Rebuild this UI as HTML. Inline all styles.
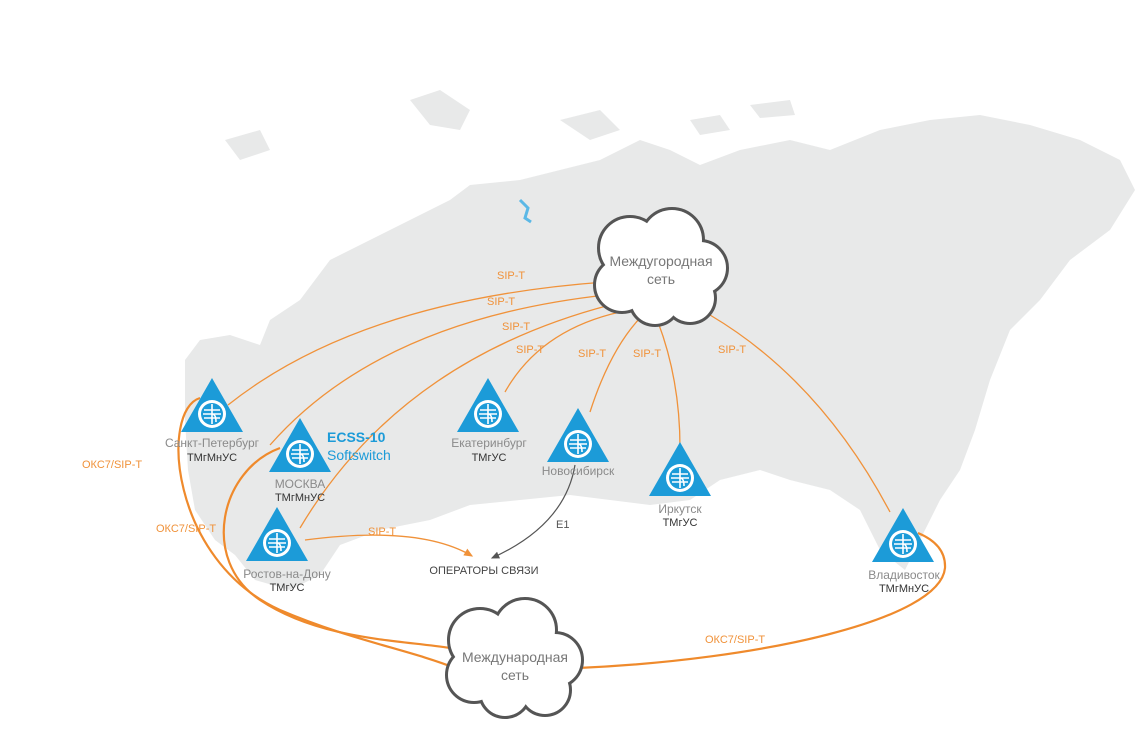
<!DOCTYPE html>
<html><head><meta charset="utf-8"><style>
body{margin:0;background:#fff;}
svg{display:block;font-family:"Liberation Sans","DejaVu Sans",sans-serif;}
.o{fill:none;stroke:#f0923a;stroke-width:1.3}
.ob{fill:none;stroke:#ef8a2c;stroke-width:2.2}
.lb{fill:#f0923a;font-size:11px}
.cn{fill:#8a8a8a;font-size:12px;text-anchor:middle}
.ct{fill:#333;font-size:11px;text-anchor:middle}
</style></head><body>
<svg width="1138" height="733" viewBox="0 0 1138 733">
<defs>
<g id="n">
<polygon points="0,-30 31,24 -31,24" fill="#1c9bd8"/>
<circle cx="0" cy="6" r="14" fill="#fff"/>
<circle cx="0" cy="6" r="11" fill="#1c9bd8"/>
<path d="M-8 2h16M-9 6h18M-8 10h16" stroke="#fff" stroke-width="1.5"/>
<path d="M0 -4v20M0 6q4 0 4 8" stroke="#fff" stroke-width="1.6" fill="none"/>
</g>
<marker id="ao" markerWidth="8" markerHeight="8" refX="6" refY="3" orient="auto"><path d="M0,0L7,3L0,6z" fill="#f0923a"/></marker>
<marker id="ag" markerWidth="8" markerHeight="8" refX="6" refY="3" orient="auto"><path d="M0,0L7,3L0,6z" fill="#555"/></marker>
</defs>
<!-- map -->
<path fill="#e8e9e9" d="M185 360 L200 340 L230 335 L260 345 L270 320 L300 300 L330 260 L370 240 L420 215 L450 200 L470 185 L520 180 L560 170 L600 160 L640 140 L670 150 L700 165 L740 150 L790 140 L830 150 L880 130 L930 120 L980 115 L1030 125 L1080 140 L1120 160 L1135 190 L1110 230 L1070 260 L1040 300 L1010 330 L990 380 L975 430 L960 470 L940 500 L920 540 L905 570 L880 550 L860 510 L830 490 L790 480 L760 470 L720 480 L690 500 L650 505 L610 500 L570 495 L520 500 L470 505 L430 520 L380 530 L340 545 L320 575 L290 590 L255 580 L235 555 L215 540 L195 510 L188 470 L185 420 Z"/>
<path fill="#e8e9e9" d="M410 100 L440 90 L470 110 L460 130 L430 125 Z M560 120 L600 110 L620 130 L590 140 Z M225 140 L260 130 L270 150 L240 160 Z M690 120 L720 115 L730 130 L700 135Z M750 105 L790 100 L795 115 L760 118Z"/>
<path d="M520 200 l8 8 l-3 10 l6 4" stroke="#5bb8e6" stroke-width="3" fill="none"/>
<!-- lines -->
<path class="o" d="M228 405 Q360 300 605 282"/>
<path class="o" d="M270 445 Q380 320 606 295"/>
<path class="o" d="M300 528 Q400 360 610 305"/>
<path class="o" d="M505 392 Q540 330 620 312"/>
<path class="o" d="M590 412 Q610 350 640 318"/>
<path class="o" d="M680 448 Q680 380 658 322"/>
<path class="o" d="M890 512 Q820 380 710 315"/>
<path class="o" d="M305 540 Q420 525 472 556" marker-end="url(#ao)"/>
<path d="M575 465 Q565 525 492 558" fill="none" stroke="#555" stroke-width="1.2" marker-end="url(#ag)"/>
<path class="ob" d="M200 398 C160 410 170 560 280 610 C350 640 410 650 455 668"/>
<path class="ob" d="M280 448 C220 470 200 560 260 600 C320 640 400 640 450 648"/>
<path class="ob" d="M578 668 C760 660 940 620 945 568 C946 548 930 538 918 533"/>
<!-- clouds -->
<g>
<g fill="#fff" stroke="#555" stroke-width="6">
<circle cx="630" cy="248" r="30"/><circle cx="672" cy="240" r="30"/><circle cx="700" cy="268" r="26"/><circle cx="690" cy="298" r="24"/><circle cx="655" cy="300" r="24"/><circle cx="622" cy="285" r="26"/>
<circle cx="480" cy="640" r="30"/><circle cx="525" cy="630" r="30"/><circle cx="555" cy="660" r="26"/><circle cx="545" cy="690" r="24"/><circle cx="505" cy="692" r="24"/><circle cx="474" cy="675" r="26"/>
</g>
<g fill="#fff">
<circle cx="630" cy="248" r="30"/><circle cx="672" cy="240" r="30"/><circle cx="700" cy="268" r="26"/><circle cx="690" cy="298" r="24"/><circle cx="655" cy="300" r="24"/><circle cx="622" cy="285" r="26"/><circle cx="660" cy="270" r="30"/>
<circle cx="480" cy="640" r="30"/><circle cx="525" cy="630" r="30"/><circle cx="555" cy="660" r="26"/><circle cx="545" cy="690" r="24"/><circle cx="505" cy="692" r="24"/><circle cx="474" cy="675" r="26"/><circle cx="513" cy="662" r="30"/>
</g>
<text x="661" y="266" font-size="14" fill="#777" text-anchor="middle">Междугородная</text>
<text x="661" y="284" font-size="14" fill="#777" text-anchor="middle">сеть</text>
<text x="515" y="662" font-size="14" fill="#777" text-anchor="middle">Международная</text>
<text x="515" y="680" font-size="14" fill="#777" text-anchor="middle">сеть</text>
</g>
<!-- nodes -->
<use href="#n" x="212" y="408"/>
<use href="#n" x="300" y="448"/>
<use href="#n" x="488" y="408"/>
<use href="#n" x="578" y="438"/>
<use href="#n" x="680" y="472"/>
<use href="#n" x="277" y="537"/>
<use href="#n" x="903" y="538"/>
<!-- labels -->
<text class="lb" x="497" y="279">SIP-T</text>
<text class="lb" x="487" y="305">SIP-T</text>
<text class="lb" x="502" y="330">SIP-T</text>
<text class="lb" x="516" y="353">SIP-T</text>
<text class="lb" x="578" y="357">SIP-T</text>
<text class="lb" x="633" y="357">SIP-T</text>
<text class="lb" x="718" y="353">SIP-T</text>
<text class="lb" x="368" y="535">SIP-T</text>
<text class="lb" x="82" y="468">ОКС7/SIP-T</text>
<text class="lb" x="156" y="532">ОКС7/SIP-T</text>
<text class="lb" x="705" y="643">ОКС7/SIP-T</text>
<text x="556" y="528" font-size="11" fill="#555">E1</text>
<text class="cn" x="212" y="447">Санкт-Петербург</text><text class="ct" x="212" y="461">ТМгМнУС</text>
<text class="cn" x="300" y="488">МОСКВА</text><text class="ct" x="300" y="501">ТМгМнУС</text>
<text x="327" y="442" font-size="14" font-weight="bold" fill="#1c9bd8">ECSS-10</text>
<text x="327" y="460" font-size="14" fill="#1c9bd8">Softswitch</text>
<text class="cn" x="489" y="447">Екатеринбург</text><text class="ct" x="489" y="461">ТМгУС</text>
<text class="cn" x="578" y="475">Новосибирск</text>
<text class="cn" x="680" y="513">Иркутск</text><text class="ct" x="680" y="526">ТМгУС</text>
<text class="cn" x="287" y="578">Ростов-на-Дону</text><text class="ct" x="287" y="591">ТМгУС</text>
<text class="cn" x="904" y="579">Владивосток</text><text class="ct" x="904" y="592">ТМгМнУС</text>
<text x="484" y="574" font-size="11" fill="#444" text-anchor="middle">ОПЕРАТОРЫ СВЯЗИ</text>
</svg>
</body></html>
